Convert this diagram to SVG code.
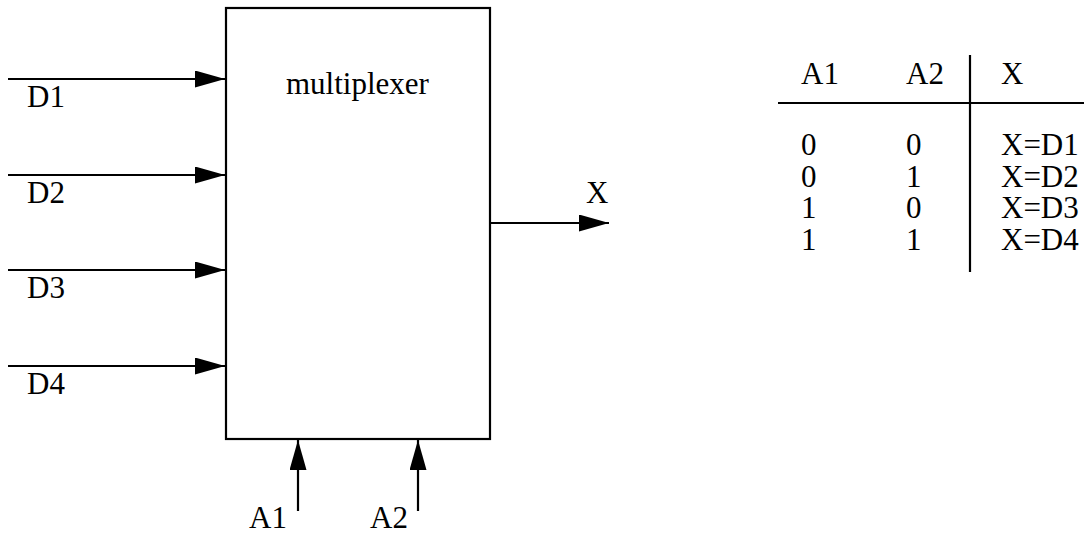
<svg xmlns="http://www.w3.org/2000/svg" width="1084" height="537" viewBox="0 0 1084 537">
<style>
text{font-family:'Liberation Serif','Tinos','Times New Roman','DejaVu Serif',serif;font-size:31px;fill:#000}
.ln{stroke:#000;stroke-width:2.2;fill:none}
</style>
<defs>
<marker id="ah" markerUnits="userSpaceOnUse" markerWidth="30" markerHeight="18" refX="30" refY="8.5" orient="auto">
<path d="M0,0 L30,8.5 L0,17 Z" fill="#000"/>
</marker>
</defs>
<rect width="1084" height="537" fill="#fff"/>
<g id="mux">
<rect x="226" y="8" width="264" height="431" class="ln"/>
<text x="286" y="94">multiplexer</text>
</g>
<g id="connectors">
<line x1="8" y1="79" x2="225" y2="79" class="ln" marker-end="url(#ah)"/>
<line x1="8" y1="175" x2="225" y2="175" class="ln" marker-end="url(#ah)"/>
<line x1="8" y1="270" x2="225" y2="270" class="ln" marker-end="url(#ah)"/>
<line x1="8" y1="366" x2="225" y2="366" class="ln" marker-end="url(#ah)"/>
<line x1="490" y1="223" x2="609" y2="223" class="ln" marker-end="url(#ah)"/>
<line x1="298" y1="511" x2="298" y2="440" class="ln" marker-end="url(#ah)"/>
<line x1="418" y1="511" x2="418" y2="440" class="ln" marker-end="url(#ah)"/>
</g>
<g id="labels">
<text x="27" y="107">D1</text>
<text x="27" y="203">D2</text>
<text x="27" y="298">D3</text>
<text x="27" y="394">D4</text>
<text x="586" y="203">X</text>
<text x="249" y="528">A1</text>
<text x="370" y="528">A2</text>
</g>
<g id="table">
<line x1="778" y1="103" x2="1084" y2="103" class="ln"/>
<line x1="970" y1="55" x2="970" y2="272" class="ln"/>
<text x="801" y="84">A1</text>
<text x="906" y="84">A2</text>
<text x="1001" y="84">X</text>
<text x="801" y="155">0</text><text x="906" y="155">0</text><text x="1001" y="155">X=D1</text>
<text x="801" y="187">0</text><text x="906" y="187">1</text><text x="1001" y="187">X=D2</text>
<text x="801" y="218">1</text><text x="906" y="218">0</text><text x="1001" y="218">X=D3</text>
<text x="801" y="250">1</text><text x="906" y="250">1</text><text x="1001" y="250">X=D4</text>
</g>
</svg>
